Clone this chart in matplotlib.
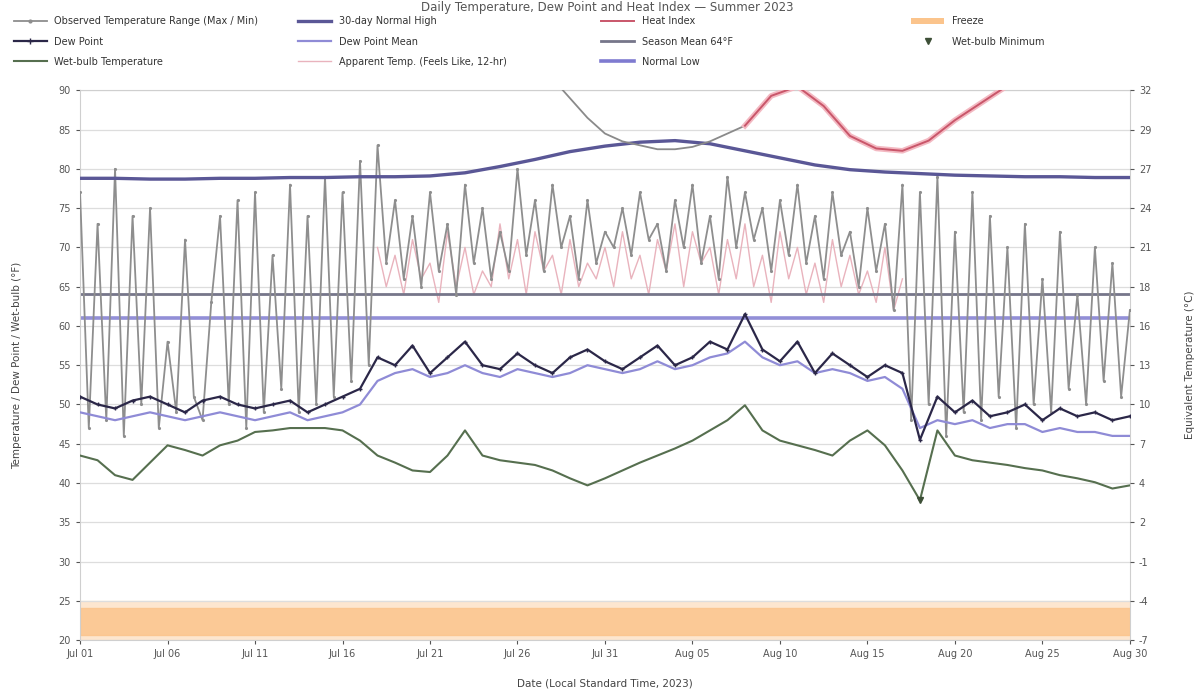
import numpy as np
import matplotlib
matplotlib.use("Agg")
import matplotlib.pyplot as plt
from matplotlib.patches import Patch
from matplotlib.lines import Line2D

# Daily max / min temperature, two readings per day (°F)
temp_maxmin = [
    77, 47, 73, 48, 80, 46, 74, 50, 75, 47, 58, 49, 71, 51, 48, 63, 74, 50,
    76, 47, 77, 49, 69, 52, 78, 49, 74, 50, 79, 51, 77, 53, 81, 55,
    83, 68, 76, 66, 74, 65, 77, 67, 73, 64, 78, 68, 75, 66, 72, 67, 80, 69,
    76, 67, 78, 70, 74, 66, 76, 68, 72, 70, 75, 69, 77, 71, 73, 67, 76, 70,
    78, 68, 74, 66, 79, 70, 77, 71, 75, 67, 76, 69, 78, 68, 74, 66, 77, 69,
    72, 65, 75, 67, 73, 62,
    78, 48, 77, 50, 79, 46, 72, 49, 77, 48, 74, 51, 70, 47, 73, 50, 66, 49,
    72, 52, 64, 50, 70, 53, 68, 51, 62,
]

# Apparent temperature, two readings per day, from Jul 18 onward (°F)
feels_like = [
    70, 65, 69, 64, 71, 66, 68, 63, 72, 65, 70, 64, 67, 65, 73, 66, 71, 64,
    72, 67, 69, 64, 71, 65, 68, 66, 70, 65, 72, 66, 69, 64, 71, 67, 73, 65,
    72, 68, 70, 64, 71, 66, 73, 65, 69, 63, 72, 66, 70, 64, 68, 63, 71, 65,
    69, 64, 67, 63, 70, 62, 66,
]
feels_like_start = 17

# Daily dew point (°F)
dew_point = [
    51, 50, 49.5, 50.5, 51, 50, 49, 50.5, 51, 50, 49.5, 50, 50.5, 49, 50, 51, 52,
    56, 55, 57.5, 54, 56, 58, 55, 54.5, 56.5, 55, 54, 56, 57, 55.5, 54.5, 56,
    57.5, 55, 56, 58, 57, 61.5,
    57, 55.5, 58, 54, 56.5, 55, 53.5, 55, 54,
    45.5,
    51, 49, 50.5, 48.5, 49, 50, 48, 49.5, 48.5, 49, 48, 48.5,
]

# 3-day mean dew point (°F)
dew_point_mean = [
    49, 48.5, 48, 48.5, 49, 48.5, 48, 48.5, 49, 48.5, 48, 48.5, 49, 48, 48.5, 49, 50,
    53, 54, 54.5, 53.5, 54, 55, 54, 53.5, 54.5, 54, 53.5, 54, 55, 54.5, 54,
    54.5, 55.5, 54.5, 55, 56, 56.5, 58,
    56, 55, 55.5, 54, 54.5, 54, 53, 53.5, 52,
    47,
    48, 47.5, 48, 47, 47.5, 47.5, 46.5, 47, 46.5, 46.5, 46, 46,
]

# Daily wet-bulb temperature (°F)
wet_bulb = [
    43.5, 42.9, 41.0, 40.4, 42.6, 44.8, 44.2, 43.5, 44.8, 45.4, 46.5, 46.7,
    47.0, 47.0, 47.0, 46.7, 45.4, 43.5, 42.6, 41.6, 41.4, 43.5, 46.7, 43.5,
    42.9, 42.6, 42.3, 41.6, 40.6, 39.7, 40.6, 41.6, 42.6, 43.5, 44.4, 45.4,
    46.7, 48.0, 49.9, 46.7, 45.4, 44.8, 44.2, 43.5, 45.4, 46.7, 44.8, 41.6,
    37.8, 46.7, 43.5, 42.9, 42.6, 42.3, 41.9, 41.6, 41.0, 40.6, 40.1, 39.3,
    39.7,
]

# 30-day normal high, every second day (°F)
normal_high = [
    78.8, 78.8, 78.7, 78.7, 78.8, 78.8, 78.9, 78.9, 79.0, 79.0, 79.1, 79.5,
    80.3, 81.2, 82.2, 82.9, 83.4, 83.6, 83.2, 82.3, 81.4, 80.5, 79.9, 79.6,
    79.4, 79.2, 79.1, 79.0, 79.0, 78.9, 78.9,
]

# Heat index (°F)
heat_index_days = [27, 28, 29, 30, 31, 32, 33, 34, 35, 36, 37, 38]
heat_index_low = [91.5, 89, 86.5, 84.5, 83.5, 83, 82.5, 82.5, 82.8, 83.5, 84.5, 85.5]
heat_index_hot_days = [38, 39.5, 41, 42.5, 44, 45.5, 47, 48.5, 50, 51.5, 53]
heat_index_hot = [85.5, 89.3, 90.5, 88.0, 84.2, 82.6, 82.3, 83.6, 86.2, 88.4, 90.6]

season_mean = 64.1
normal_low = 61.0
freeze_band = (20, 25)

y_ticks = [20, 25, 30, 35, 40, 45, 50, 55, 60, 65, 70, 75, 80, 85, 90]
y_labels_c = ["-7", "-4", "-1", "2", "4", "7", "10", "13", "16", "18",
              "21", "24", "27", "29", "32"]
x_ticks = [0, 5, 10, 15, 20, 25, 30, 35, 40, 45, 50, 55, 60]
x_labels = ["Jul 01", "Jul 06", "Jul 11", "Jul 16", "Jul 21", "Jul 26", "Jul 31",
            "Aug 05", "Aug 10", "Aug 15", "Aug 20", "Aug 25", "Aug 30"]

half_days = np.arange(len(temp_maxmin)) * 0.5
feels_days = feels_like_start + np.arange(len(feels_like)) * 0.5
days = np.arange(len(dew_point))
even_days = np.arange(len(normal_high)) * 2

fig = plt.figure(figsize=(12.02, 6.95), dpi=100)
ax = fig.add_axes([0.0666, 0.079, 0.8734, 0.791])

# freeze band at the bottom
ax.axhspan(freeze_band[0], freeze_band[1], color="#fde6cf", zorder=0)
ax.axhspan(freeze_band[0] + 0.6, freeze_band[1] - 0.9, color="#fbc48c", alpha=0.85, zorder=0)

ax.axhline(season_mean, color="#76768a", lw=2.0, zorder=2)
ax.axhline(normal_low, color="#7f7bd0", lw=2.6, alpha=0.85, zorder=2)

ax.plot(feels_days, feels_like, color="#e9b3bd", lw=1.0, zorder=1)
ax.plot(half_days, temp_maxmin, color="#8e8e8e", lw=1.3, marker=".", ms=2.5, zorder=3)
ax.plot(even_days, normal_high, color="#5a5796", lw=2.4, zorder=4)
ax.plot(heat_index_days, heat_index_low, color="#8a8a8a", lw=1.3, zorder=4)
ax.plot(heat_index_hot_days, heat_index_hot, color="#f3b9c2", lw=4.0, zorder=4)
ax.plot(heat_index_hot_days, heat_index_hot, color="#c9566a", lw=1.4, zorder=5)
ax.plot(days, dew_point_mean, color="#8f8bd6", lw=1.6, zorder=4)
ax.plot(days, dew_point, color="#2b2748", lw=1.6, marker="+", ms=3.5, zorder=5)
ax.plot(days, wet_bulb, color="#566f4f", lw=1.5, zorder=5)
wb_min = int(np.argmin(wet_bulb))
ax.plot(days[wb_min], wet_bulb[wb_min], ls="none", marker="v", ms=4,
        color="#3d4f37", zorder=6)

ax.set_xlim(0, 60)
ax.set_ylim(20, 90)
ax.set_yticks(y_ticks)
ax.set_xticks(x_ticks)
ax.set_xticklabels(x_labels)
ax.grid(axis="y", color="#dddddd", lw=0.9)
ax.set_axisbelow(True)
for s in ax.spines.values():
    s.set_color("#cfcfcf")
ax.tick_params(labelsize=7, colors="#555555", length=3)
ax.set_ylabel("Temperature / Dew Point / Wet-bulb (°F)", fontsize=7.5, color="#444444", labelpad=26)
ax.set_xlabel("Date (Local Standard Time, 2023)", fontsize=7.5, color="#444444", labelpad=14)

ax2 = ax.twinx()
ax2.set_ylim(ax.get_ylim())
ax2.set_yticks(y_ticks)
ax2.set_yticklabels(y_labels_c)
ax2.tick_params(labelsize=7, colors="#555555", length=3)
for s in ax2.spines.values():
    s.set_visible(False)
ax2.set_ylabel("Equivalent Temperature (°C)", fontsize=7.5, color="#444444", labelpad=24)

legend_cols = [
    (0.008, [
        (Line2D([], [], color="#8e8e8e", lw=1.3, marker=".", ms=4),
         "Observed Temperature Range (Max / Min)"),
        (Line2D([], [], color="#2b2748", lw=1.6, marker="+", ms=5), "Dew Point"),
        (Line2D([], [], color="#566f4f", lw=1.5), "Wet-bulb Temperature"),
    ]),
    (0.245, [
        (Line2D([], [], color="#5a5796", lw=2.4), "30-day Normal High"),
        (Line2D([], [], color="#8f8bd6", lw=1.6), "Dew Point Mean"),
        (Line2D([], [], color="#e9b3bd", lw=1.0), "Apparent Temp. (Feels Like, 12-hr)"),
    ]),
    (0.497, [
        (Line2D([], [], color="#c9566a", lw=1.4), "Heat Index"),
        (Line2D([], [], color="#76768a", lw=2.0), "Season Mean 64°F"),
        (Line2D([], [], color="#7f7bd0", lw=2.6), "Normal Low"),
    ]),
    (0.755, [
        (Patch(facecolor="#fbc48c", edgecolor="none"), "Freeze"),
        (Line2D([], [], ls="none", marker="v", ms=4, color="#3d4f37"), "Wet-bulb Minimum"),
    ]),
]
for x0, entries in legend_cols:
    fig.legend([h for h, _ in entries], [t for _, t in entries], loc="upper left",
               bbox_to_anchor=(x0, 0.982), frameon=False, fontsize=7,
               labelspacing=1.05, handlelength=3.4, borderaxespad=0.0,
               labelcolor="#333333")

fig.text(0.505, 0.999, "Daily Temperature, Dew Point and Heat Index \u2014 Summer 2023",
         ha="center", va="top", fontsize=8.5, color="#555555")

fig.savefig("out.png", dpi=100)
